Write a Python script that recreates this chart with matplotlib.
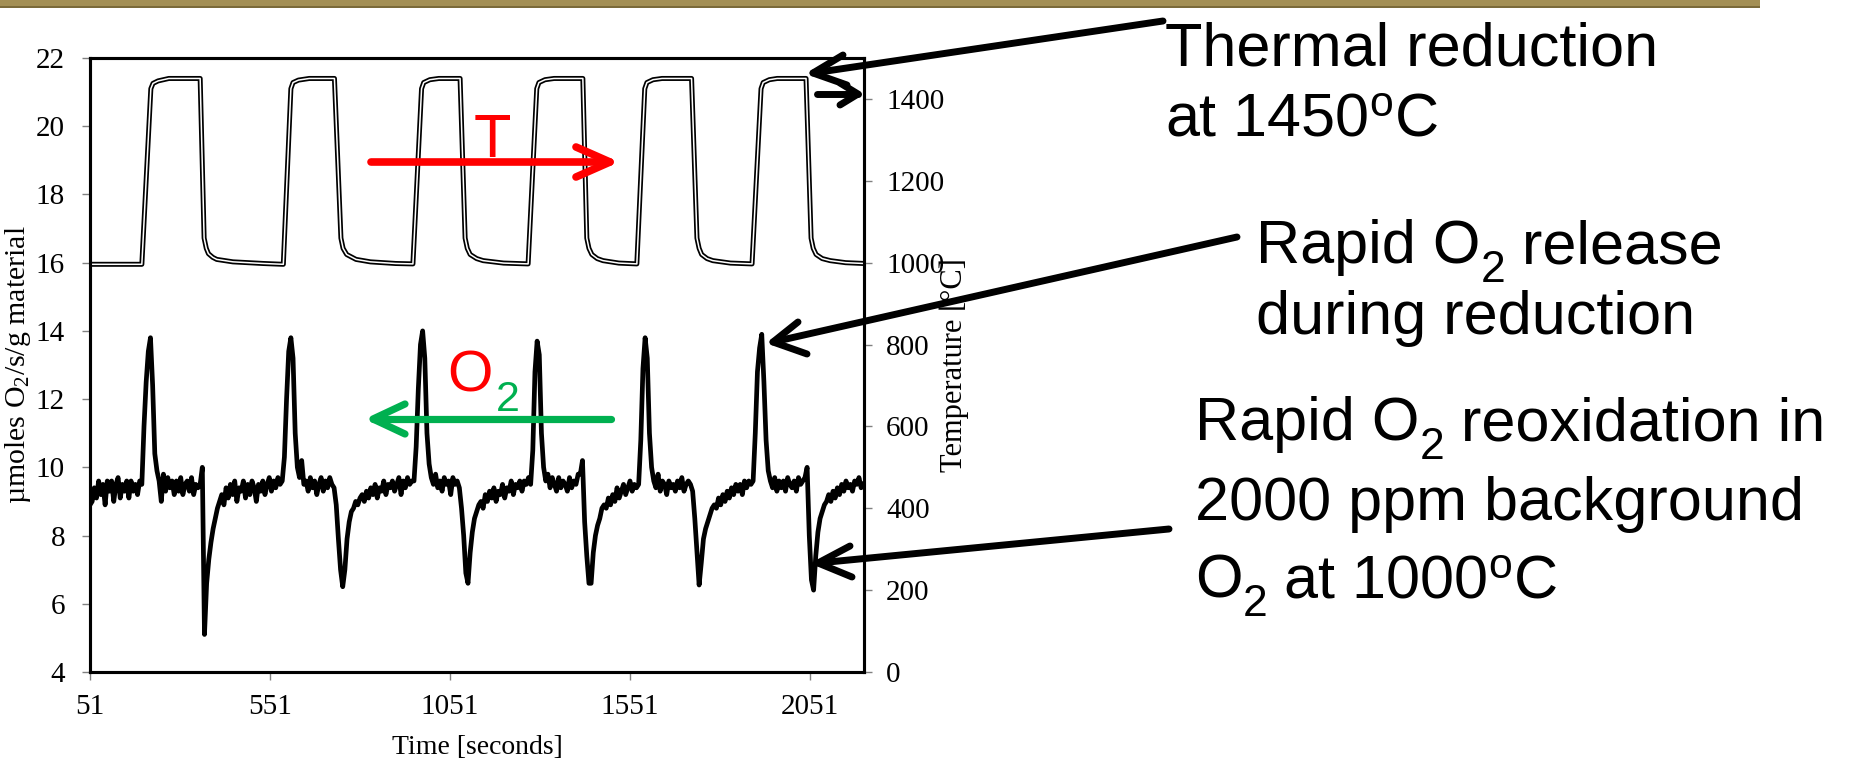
import numpy as np
import matplotlib
matplotlib.use("Agg")
import matplotlib.pyplot as plt
from matplotlib.lines import Line2D
from matplotlib.patches import Rectangle

# ---------------- data ----------------
x_ticks = [51, 551, 1051, 1551, 2051]
x_range = [51, 2201]
o2_ticks = [4, 6, 8, 10, 12, 14, 16, 18, 20, 22]
temp_ticks = [0, 200, 400, 600, 800, 1000, 1200, 1400]

o2_start = 51
o2_step = 6
o2_values = [
    8.9, 9.0, 9.4, 9.1, 9.6, 9.2, 9.5, 8.9, 9.6, 9.3,      # 51-105
    9.6, 9.0, 9.5, 9.7, 9.1, 9.5, 9.3, 9.6, 9.1, 9.6,      # 111-165
    9.3, 9.5, 9.2, 9.6, 9.5, 11.2, 12.5, 13.4, 13.8, 12.4,  # 171-225
    10.4, 9.9, 9.6, 9.0, 9.8, 9.3, 9.7, 9.4, 9.6, 9.2,     # 231-285
    9.6, 9.3, 9.7, 9.2, 9.5, 9.6, 9.3, 9.7, 9.2, 9.5,      # 291-345
    9.4, 9.5, 10.0, 5.1, 6.6, 7.3, 7.8, 8.2, 8.5, 8.8,     # 351-405
    9.0, 9.2, 8.9, 9.4, 9.1, 9.5, 9.2, 9.6, 9.0, 9.4,      # 411-465
    9.3, 9.6, 9.1, 9.5, 9.2, 9.6, 9.4, 9.0, 9.5, 9.3,      # 471-525
    9.6, 9.2, 9.5, 9.7, 9.3, 9.6, 9.4, 9.7, 9.5, 9.6,      # 531-585
    10.3, 12.0, 13.4, 13.8, 13.2, 11.0, 10.0, 9.7, 10.2, 9.5,  # 591-645
    9.6, 9.3, 9.7, 9.4, 9.6, 9.2, 9.5, 9.7, 9.3, 9.6,      # 651-705
    9.4, 9.7, 9.5, 9.4, 8.9, 7.9, 7.0, 6.5, 7.0, 7.9,      # 711-765
    8.4, 8.7, 8.8, 9.0, 8.9, 9.1, 9.2, 9.0, 9.3, 9.1,      # 771-825
    9.4, 9.2, 9.5, 9.1, 9.4, 9.3, 9.6, 9.2, 9.5, 9.4,      # 831-885
    9.6, 9.3, 9.5, 9.7, 9.2, 9.6, 9.4, 9.7, 9.5, 9.6,      # 891-945
    9.6, 10.6, 12.3, 13.6, 14.0, 13.2, 11.0, 10.1, 9.7, 9.5,  # 951-1005
    9.8, 9.4, 9.6, 9.3, 9.7, 9.5, 9.6, 9.2, 9.7, 9.5,      # 1011-1065
    9.6, 9.4, 8.8, 8.0, 6.9, 6.6, 7.5, 8.1, 8.5, 8.7,      # 1071-1125
    8.9, 9.0, 8.8, 9.2, 9.0, 9.3, 9.1, 9.4, 9.0, 9.3,      # 1131-1185
    9.2, 9.5, 9.1, 9.4, 9.3, 9.6, 9.2, 9.5, 9.4, 9.6,      # 1191-1245
    9.3, 9.6, 9.5, 9.7, 9.5, 10.5, 12.8, 13.7, 13.3, 11.0,  # 1251-1305
    10.0, 9.6, 9.8, 9.4, 9.7, 9.5, 9.3, 9.7, 9.4, 9.6,     # 1311-1365
    9.5, 9.3, 9.7, 9.4, 9.6, 9.5, 9.8, 9.8, 10.2, 8.4,     # 1371-1425
    7.4, 6.6, 6.6, 7.5, 8.0, 8.3, 8.5, 8.8, 8.9, 8.8,      # 1431-1485
    9.1, 8.9, 9.2, 9.0, 9.4, 9.1, 9.3, 9.5, 9.2, 9.4,      # 1491-1545
    9.6, 9.3, 9.5, 9.4, 9.5, 10.8, 12.9, 13.8, 13.2, 11.0,  # 1551-1605
    10.0, 9.6, 9.4, 9.8, 9.3, 9.6, 9.5, 9.2, 9.6, 9.4,     # 1611-1665
    9.5, 9.3, 9.6, 9.4, 9.7, 9.3, 9.5, 9.6, 9.5, 9.3,      # 1671-1725
    8.5, 7.5, 6.55, 7.2, 7.9, 8.2, 8.4, 8.6, 8.8, 8.9,     # 1731-1785
    8.8, 9.1, 8.9, 9.2, 9.0, 9.3, 9.1, 9.4, 9.2, 9.5,      # 1791-1845
    9.3, 9.5, 9.2, 9.6, 9.4, 9.6, 9.5, 9.6, 11.0, 12.8,    # 1851-1905
    13.5, 13.9, 12.5, 10.8, 9.9, 9.6, 9.4, 9.7, 9.3, 9.6,  # 1911-1965
    9.4, 9.6, 9.3, 9.7, 9.5, 9.4, 9.6, 9.3, 9.7, 9.5,      # 1971-2025
    9.6, 9.7, 10.0, 8.0, 6.7, 6.4, 7.4, 8.1, 8.5, 8.7,     # 2031-2085
    8.9, 9.0, 9.2, 9.0, 9.3, 9.1, 9.4, 9.2, 9.5, 9.3,      # 2091-2145
    9.6, 9.4, 9.5, 9.3, 9.6, 9.5, 9.7, 9.4, 9.5,           # 2151-2199
]

# Temperature profile (corner points)
temp_time = [
    51, 195, 220, 226, 240, 270, 357, 368, 374, 380, 392, 403, 448, 532, 588,
    609, 615, 630, 660, 730, 748, 754, 764, 790, 830, 900, 948,
    972, 978, 995, 1020, 1079, 1093, 1099, 1107, 1125, 1143, 1200, 1268,
    1292, 1298, 1315, 1340, 1420, 1431, 1437, 1445, 1460, 1476, 1520, 1570,
    1592, 1598, 1615, 1640, 1722, 1737, 1743, 1750, 1765, 1781, 1830, 1890,
    1915, 1921, 1938, 1960, 2040, 2054, 2060, 2068, 2085, 2107, 2150, 2201,
]
temp_degc = [
    996, 996, 1425, 1438, 1444, 1450, 1450, 1060, 1035, 1022, 1013, 1008, 1002, 998, 996,
    1425, 1440, 1446, 1450, 1450, 1060, 1035, 1020, 1008, 1002, 998, 997,
    1425, 1440, 1447, 1450, 1450, 1060, 1035, 1020, 1010, 1005, 999, 997,
    1425, 1440, 1447, 1450, 1450, 1060, 1035, 1020, 1010, 1005, 999, 997,
    1425, 1440, 1447, 1450, 1450, 1060, 1035, 1020, 1010, 1005, 999, 997,
    1425, 1440, 1447, 1450, 1450, 1060, 1035, 1020, 1010, 1005, 1000, 998,
]

# ---------------- style ----------------
plt.rcParams['font.family'] = ['Liberation Serif', 'DejaVu Serif']
plt.rcParams['mathtext.fontset'] = 'custom'
plt.rcParams['mathtext.rm'] = 'Liberation Serif'
plt.rcParams['mathtext.it'] = 'Liberation Serif:italic'
plt.rcParams['mathtext.bf'] = 'Liberation Serif:bold'
plt.rcParams['mathtext.sf'] = 'Liberation Sans'

W, H = 1855, 764
fig = plt.figure(figsize=(W / 100, H / 100), dpi=100)
renderer = fig.canvas.get_renderer()


def fx(x):
    return x / W


def fy(y):
    return 1 - y / H


def P(pt):
    return fx(pt[0]), fy(pt[1])


# top decorative band
fig.patches.append(Rectangle((0, fy(7)), fx(1760), 7 / H, transform=fig.transFigure,
                             facecolor='#A38F55', edgecolor='none', zorder=0))
fig.patches.append(Rectangle((0, fy(8)), fx(1760), 2 / H, transform=fig.transFigure,
                             facecolor='#7A6A3A', edgecolor='none', zorder=0))

ax = fig.add_axes([fx(90), fy(672), 774 / W, 614 / H])
ax2 = ax.twinx()

o2_time = o2_start + o2_step * np.arange(len(o2_values))
ax.plot(o2_time, o2_values, color='black', lw=3.4, solid_joinstyle='round', zorder=3)

ax2.plot(temp_time, temp_degc, color='black', lw=3.6, solid_joinstyle='round')
ax2.plot(temp_time, temp_degc, color='white', lw=1.1, solid_joinstyle='round')

ax.set_xlim(*x_range)
ax.set_ylim(4, 22)
ax2.set_ylim(0, 1500)
ax.set_xticks(x_ticks)
ax.set_xticklabels([str(v) for v in x_ticks])
ax.set_yticks(o2_ticks)
ax2.set_yticks(temp_ticks)

for a in (ax, ax2):
    for s in a.spines.values():
        s.set_linewidth(2.2)
        s.set_color('black')

ax.tick_params(axis='both', direction='out', length=6, width=1.0, color='#808080', labelsize=21)
ax.tick_params(axis='y', pad=12)
ax.tick_params(axis='x', pad=10)
ax2.tick_params(axis='y', direction='out', length=6, width=1.0, color='#808080', labelsize=21, pad=10)

ax.set_ylabel(r"µmoles O$_2$/s/g material", fontsize=21.5)
ax.yaxis.set_label_coords(-0.073, 0.5)
ax2.set_ylabel("Temperature [°C]", fontsize=22)
ax2.yaxis.set_label_coords(1.098, 0.5)
ax.set_xlabel("Time [seconds]", fontsize=20)
ax.xaxis.set_label_coords(0.5, -0.103)

# ---------------- annotations ----------------
sans = 'Liberation Sans'
MAIN = 44
SUB = 32
SUB_DROP = 19


def text_run(x, y, pieces, color='black'):
    """pieces: list of (string, is_subscript)"""
    for s, sub in pieces:
        size = SUB if sub else MAIN
        dy = SUB_DROP if sub else 0
        t = fig.text(fx(x), fy(y + dy), s, fontsize=size, family=sans,
                     va='baseline', ha='left', color=color)
        bb = t.get_window_extent(renderer)
        x = bb.x1


NBSP = "\u00a0"
ann_lines = [
    (1165, 65, [("Thermal reduction", False)]),
    (1165, 136, [(r"at 1450$^{\mathsf{o}}$C", False)]),
    (1256, 263, [("Rapid O", False), ("2", True), (NBSP + "release", False)]),
    (1256, 334, [("during reduction", False)]),
    (1195, 440, [("Rapid O", False), ("2", True), (NBSP + "reoxidation in", False)]),
    (1195, 520, [("2000 ppm background", False)]),
    (1195, 597, [("O", False), ("2", True), (NBSP + r"at 1000$^{\mathsf{o}}$C", False)]),
]
for x, y, pieces in ann_lines:
    text_run(x, y, pieces)

black_arrows = [
    ((1163, 21), (813, 73), (843, 55), (847, 85)),
    ((817, 94), (858, 94), (840, 83), (840, 105)),
    ((1237, 237), (773, 342), (798, 322), (807, 354)),
    ((1169, 529), (818, 563), (850, 546), (852, 577)),
]


def draw_arrow(tail, tip, a1, a2, color, lw):
    xs, ys = zip(P(tail), P(tip))
    fig.add_artist(Line2D(xs, ys, transform=fig.transFigure, color=color, lw=lw,
                          solid_capstyle='round', zorder=10))
    xs, ys = zip(P(a1), P(tip), P(a2))
    fig.add_artist(Line2D(xs, ys, transform=fig.transFigure, color=color, lw=lw,
                          solid_capstyle='round', solid_joinstyle='round', zorder=10))


for tail, tip, a1, a2 in black_arrows:
    draw_arrow(tail, tip, a1, a2, 'black', 5)

draw_arrow((371, 162), (610, 162), (576, 147), (576, 177), '#FF0000', 5.5)
draw_arrow((611, 419), (373, 419), (405, 404), (405, 434), '#00B050', 5.2)

fig.text(fx(492), fy(157), "T", fontsize=44, family=sans, color='#FF0000', ha='center', va='baseline')
fig.text(fx(447), fy(392), "O", fontsize=42, family=sans, color='#FF0000', ha='left', va='baseline')
fig.text(fx(496), fy(411), "2", fontsize=31, family=sans, color='#00B050', ha='left', va='baseline')

fig.savefig("out.png", dpi=100)
